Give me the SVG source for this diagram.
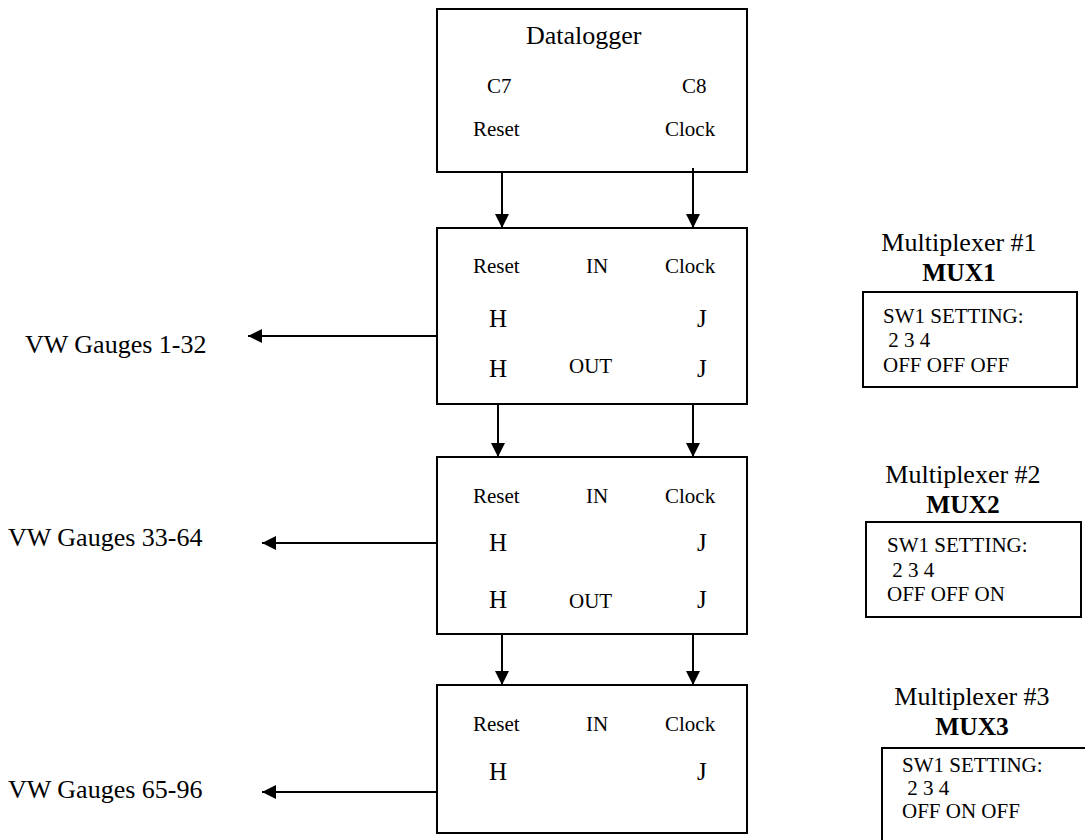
<svg xmlns="http://www.w3.org/2000/svg" width="1085" height="840" viewBox="0 0 1085 840">
<style>
.box{fill:#fff;stroke:#000;stroke-width:2}
.sbox{fill:none;stroke:#000;stroke-width:2}
text{font-family:"Liberation Serif","Times New Roman",serif;fill:#000}
.t22{font-size:21px}
.big{font-size:25px}
.lab{font-size:26px}
.mux{font-size:25.5px;font-weight:bold}
.sw{font-size:21px}
.con line{stroke:#000;stroke-width:2}
</style>
<defs>
<marker id="ah" viewBox="0 0 10 10" refX="10" refY="5" markerWidth="7.5" markerHeight="7" markerUnits="strokeWidth" orient="auto">
<path d="M0,0 L10,5 L0,10 z" fill="#000"/>
</marker>
</defs>
<rect width="1085" height="840" fill="#fff"/>
<g id="datalogger">
<rect class="box" x="437" y="9" width="310" height="163"/>
<text x="526" y="44" style="font-size:26px">Datalogger</text>
<text class="t22" x="487" y="93">C7</text>
<text class="t22" x="682" y="93">C8</text>
<text class="t22" x="473" y="136">Reset</text>
<text class="t22" x="665" y="136">Clock</text>
</g>
<g id="mux1">
<rect class="box" x="437" y="228" width="310" height="176"/>
<text class="t22" x="473" y="273">Reset</text>
<text class="t22" x="586" y="273">IN</text>
<text class="t22" x="665" y="273">Clock</text>
<text class="big" x="489" y="327">H</text>
<text class="big" x="697" y="327">J</text>
<text class="big" x="489" y="377">H</text>
<text class="t22" x="569" y="373">OUT</text>
<text class="big" x="697" y="377">J</text>
</g>
<g id="mux2">
<rect class="box" x="437" y="457" width="310" height="177"/>
<text class="t22" x="473" y="503">Reset</text>
<text class="t22" x="586" y="503">IN</text>
<text class="t22" x="665" y="503">Clock</text>
<text class="big" x="489" y="551">H</text>
<text class="big" x="697" y="551">J</text>
<text class="big" x="489" y="608">H</text>
<text class="t22" x="569" y="608">OUT</text>
<text class="big" x="697" y="608">J</text>
</g>
<g id="mux3">
<rect class="box" x="437" y="685" width="310" height="148"/>
<text class="t22" x="473" y="731">Reset</text>
<text class="t22" x="586" y="731">IN</text>
<text class="t22" x="665" y="731">Clock</text>
<text class="big" x="489" y="780">H</text>
<text class="big" x="697" y="780">J</text>
</g>
<g id="gauges1"><text class="lab" x="25" y="353">VW Gauges 1-32</text></g>
<g id="gauges2"><text class="lab" x="8" y="546">VW Gauges 33-64</text></g>
<g id="gauges3"><text class="lab" x="8" y="798">VW Gauges 65-96</text></g>
<g id="mux1-label">
<text class="lab" x="959" y="251" text-anchor="middle">Multiplexer #1</text>
<text class="mux" x="959" y="281" text-anchor="middle">MUX1</text>
<rect class="sbox" x="863" y="292" width="214" height="95"/>
<text class="sw" x="883" y="323">SW1 SETTING:</text>
<text class="sw" x="883" y="347" xml:space="preserve"> 2 3 4</text>
<text class="sw" x="883" y="372">OFF OFF OFF</text>
</g>
<g id="mux2-label">
<text class="lab" x="963" y="483" text-anchor="middle">Multiplexer #2</text>
<text class="mux" x="963" y="513" text-anchor="middle">MUX2</text>
<rect class="sbox" x="866" y="522" width="215" height="95"/>
<text class="sw" x="887" y="552">SW1 SETTING:</text>
<text class="sw" x="887" y="577" xml:space="preserve"> 2 3 4</text>
<text class="sw" x="887" y="601">OFF OFF ON</text>
</g>
<g id="mux3-label">
<text class="lab" x="972" y="705" text-anchor="middle">Multiplexer #3</text>
<text class="mux" x="972" y="735" text-anchor="middle">MUX3</text>
<path class="sbox" d="M882,842 V748 H1090"/>
<text class="sw" x="902" y="772">SW1 SETTING:</text>
<text class="sw" x="902" y="795" xml:space="preserve"> 2 3 4</text>
<text class="sw" x="902" y="818">OFF ON OFF</text>
</g>
<g id="connectors" class="con">
<line x1="502" y1="172" x2="502" y2="228" marker-end="url(#ah)"/>
<line x1="693" y1="168" x2="693" y2="228" marker-end="url(#ah)"/>
<line x1="498" y1="404" x2="498" y2="457" marker-end="url(#ah)"/>
<line x1="693" y1="404" x2="693" y2="457" marker-end="url(#ah)"/>
<line x1="502" y1="634" x2="502" y2="685" marker-end="url(#ah)"/>
<line x1="693" y1="634" x2="693" y2="685" marker-end="url(#ah)"/>
<line x1="437" y1="336" x2="248" y2="336" marker-end="url(#ah)"/>
<line x1="437" y1="543" x2="262" y2="543" marker-end="url(#ah)"/>
<line x1="437" y1="792" x2="262" y2="792" marker-end="url(#ah)"/>
</g>
</svg>
